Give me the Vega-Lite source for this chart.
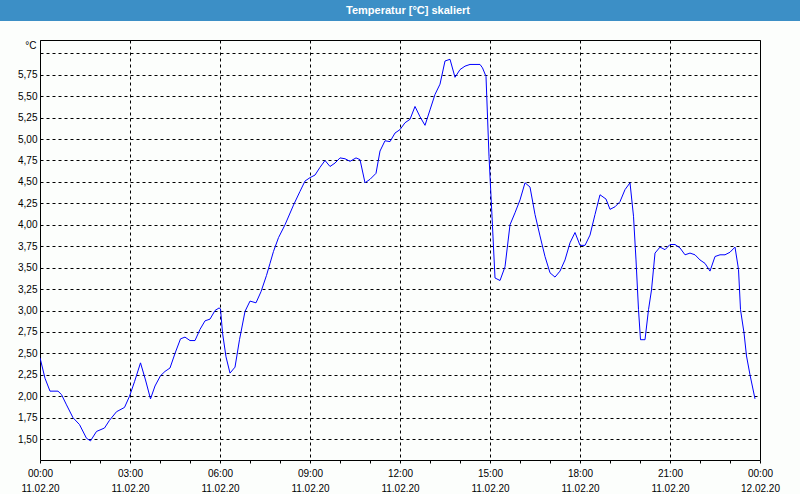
{
  "$schema": "https://vega.github.io/schema/vega-lite/v6.json",
  "padding": 0,
  "background": "#fcfefc",
  "spacing": 19,
  "bounds": "flush",
  "center": true,
  "config": {
    "view": {"stroke": "#000000", "strokeWidth": 1},
    "axis": {"labelFont": "Liberation Sans", "labelFontSize": 10, "labelColor": "#000000", "titleFont": "Liberation Sans", "titleFontSize": 10, "titleColor": "#000000", "titleFontWeight": "normal"}
  },
  "vconcat": [
    {
      "width": 800,
      "height": 21,
      "view": {"fill": "#3c8fc6", "stroke": null},
      "data": {"values": [{"label": "Temperatur [°C] skaliert"}]},
      "mark": {"type": "text", "color": "#ffffff", "font": "Liberation Sans", "fontWeight": "bold", "fontSize": 11, "dx": 8, "baseline": "middle", "align": "center"},
      "encoding": {"text": {"field": "label", "type": "nominal"}}
    },
    {
      "width": 720,
      "height": 420,
      "view": {"fill": "#fcfefc", "stroke": "#000000"},
      "data": {"values": [
        {"t": "2020-02-11T00:00Z", "v": 2.45},
        {"t": "2020-02-11T00:10Z", "v": 2.21},
        {"t": "2020-02-11T00:20Z", "v": 2.06},
        {"t": "2020-02-11T00:36Z", "v": 2.06},
        {"t": "2020-02-11T00:43Z", "v": 2.02},
        {"t": "2020-02-11T00:53Z", "v": 1.90},
        {"t": "2020-02-11T01:06Z", "v": 1.75},
        {"t": "2020-02-11T01:19Z", "v": 1.67},
        {"t": "2020-02-11T01:33Z", "v": 1.51},
        {"t": "2020-02-11T01:41Z", "v": 1.48},
        {"t": "2020-02-11T01:53Z", "v": 1.59},
        {"t": "2020-02-11T02:09Z", "v": 1.63},
        {"t": "2020-02-11T02:19Z", "v": 1.72},
        {"t": "2020-02-11T02:33Z", "v": 1.82},
        {"t": "2020-02-11T02:49Z", "v": 1.87},
        {"t": "2020-02-11T02:59Z", "v": 2.00},
        {"t": "2020-02-11T03:09Z", "v": 2.17},
        {"t": "2020-02-11T03:21Z", "v": 2.39},
        {"t": "2020-02-11T03:31Z", "v": 2.19},
        {"t": "2020-02-11T03:41Z", "v": 1.97},
        {"t": "2020-02-11T03:50Z", "v": 2.12},
        {"t": "2020-02-11T04:01Z", "v": 2.24},
        {"t": "2020-02-11T04:10Z", "v": 2.29},
        {"t": "2020-02-11T04:20Z", "v": 2.33},
        {"t": "2020-02-11T04:30Z", "v": 2.50},
        {"t": "2020-02-11T04:41Z", "v": 2.67},
        {"t": "2020-02-11T04:50Z", "v": 2.69},
        {"t": "2020-02-11T05:00Z", "v": 2.65},
        {"t": "2020-02-11T05:10Z", "v": 2.65},
        {"t": "2020-02-11T05:20Z", "v": 2.78},
        {"t": "2020-02-11T05:30Z", "v": 2.88},
        {"t": "2020-02-11T05:40Z", "v": 2.90},
        {"t": "2020-02-11T05:50Z", "v": 3.00},
        {"t": "2020-02-11T05:58Z", "v": 3.03},
        {"t": "2020-02-11T06:01Z", "v": 3.02},
        {"t": "2020-02-11T06:05Z", "v": 2.74},
        {"t": "2020-02-11T06:12Z", "v": 2.46},
        {"t": "2020-02-11T06:20Z", "v": 2.27},
        {"t": "2020-02-11T06:30Z", "v": 2.34},
        {"t": "2020-02-11T06:39Z", "v": 2.66},
        {"t": "2020-02-11T06:50Z", "v": 2.99},
        {"t": "2020-02-11T07:00Z", "v": 3.11},
        {"t": "2020-02-11T07:12Z", "v": 3.09},
        {"t": "2020-02-11T07:22Z", "v": 3.22},
        {"t": "2020-02-11T07:33Z", "v": 3.41},
        {"t": "2020-02-11T07:40Z", "v": 3.55},
        {"t": "2020-02-11T07:47Z", "v": 3.69},
        {"t": "2020-02-11T07:57Z", "v": 3.85},
        {"t": "2020-02-11T08:10Z", "v": 4.00},
        {"t": "2020-02-11T08:27Z", "v": 4.23},
        {"t": "2020-02-11T08:40Z", "v": 4.39},
        {"t": "2020-02-11T08:50Z", "v": 4.51},
        {"t": "2020-02-11T09:00Z", "v": 4.55},
        {"t": "2020-02-11T09:10Z", "v": 4.58},
        {"t": "2020-02-11T09:20Z", "v": 4.67},
        {"t": "2020-02-11T09:30Z", "v": 4.75},
        {"t": "2020-02-11T09:40Z", "v": 4.68},
        {"t": "2020-02-11T09:50Z", "v": 4.72},
        {"t": "2020-02-11T10:00Z", "v": 4.78},
        {"t": "2020-02-11T10:10Z", "v": 4.77},
        {"t": "2020-02-11T10:20Z", "v": 4.74},
        {"t": "2020-02-11T10:32Z", "v": 4.78},
        {"t": "2020-02-11T10:40Z", "v": 4.76},
        {"t": "2020-02-11T10:50Z", "v": 4.49},
        {"t": "2020-02-11T11:00Z", "v": 4.53},
        {"t": "2020-02-11T11:12Z", "v": 4.60},
        {"t": "2020-02-11T11:20Z", "v": 4.86},
        {"t": "2020-02-11T11:30Z", "v": 4.98},
        {"t": "2020-02-11T11:40Z", "v": 4.97},
        {"t": "2020-02-11T11:50Z", "v": 5.07},
        {"t": "2020-02-11T12:00Z", "v": 5.11},
        {"t": "2020-02-11T12:10Z", "v": 5.19},
        {"t": "2020-02-11T12:20Z", "v": 5.23},
        {"t": "2020-02-11T12:30Z", "v": 5.38},
        {"t": "2020-02-11T12:40Z", "v": 5.26},
        {"t": "2020-02-11T12:50Z", "v": 5.16},
        {"t": "2020-02-11T13:00Z", "v": 5.34},
        {"t": "2020-02-11T13:10Z", "v": 5.52},
        {"t": "2020-02-11T13:20Z", "v": 5.64},
        {"t": "2020-02-11T13:30Z", "v": 5.91},
        {"t": "2020-02-11T13:40Z", "v": 5.93},
        {"t": "2020-02-11T13:50Z", "v": 5.72},
        {"t": "2020-02-11T14:00Z", "v": 5.81},
        {"t": "2020-02-11T14:10Z", "v": 5.85},
        {"t": "2020-02-11T14:20Z", "v": 5.87},
        {"t": "2020-02-11T14:40Z", "v": 5.87},
        {"t": "2020-02-11T14:45Z", "v": 5.83},
        {"t": "2020-02-11T14:52Z", "v": 5.73},
        {"t": "2020-02-11T14:58Z", "v": 4.80},
        {"t": "2020-02-11T15:04Z", "v": 4.10},
        {"t": "2020-02-11T15:10Z", "v": 3.38},
        {"t": "2020-02-11T15:20Z", "v": 3.35},
        {"t": "2020-02-11T15:30Z", "v": 3.51},
        {"t": "2020-02-11T15:40Z", "v": 4.00},
        {"t": "2020-02-11T15:50Z", "v": 4.14},
        {"t": "2020-02-11T16:00Z", "v": 4.29},
        {"t": "2020-02-11T16:10Z", "v": 4.49},
        {"t": "2020-02-11T16:20Z", "v": 4.44},
        {"t": "2020-02-11T16:30Z", "v": 4.12},
        {"t": "2020-02-11T16:40Z", "v": 3.87},
        {"t": "2020-02-11T16:50Z", "v": 3.63},
        {"t": "2020-02-11T17:00Z", "v": 3.44},
        {"t": "2020-02-11T17:10Z", "v": 3.39},
        {"t": "2020-02-11T17:20Z", "v": 3.46},
        {"t": "2020-02-11T17:30Z", "v": 3.59},
        {"t": "2020-02-11T17:40Z", "v": 3.79},
        {"t": "2020-02-11T17:50Z", "v": 3.91},
        {"t": "2020-02-11T18:00Z", "v": 3.76},
        {"t": "2020-02-11T18:10Z", "v": 3.76},
        {"t": "2020-02-11T18:20Z", "v": 3.88},
        {"t": "2020-02-11T18:30Z", "v": 4.12},
        {"t": "2020-02-11T18:40Z", "v": 4.35},
        {"t": "2020-02-11T18:52Z", "v": 4.30},
        {"t": "2020-02-11T19:00Z", "v": 4.18},
        {"t": "2020-02-11T19:10Z", "v": 4.21},
        {"t": "2020-02-11T19:20Z", "v": 4.27},
        {"t": "2020-02-11T19:30Z", "v": 4.41},
        {"t": "2020-02-11T19:40Z", "v": 4.49},
        {"t": "2020-02-11T19:47Z", "v": 4.10},
        {"t": "2020-02-11T19:52Z", "v": 3.59},
        {"t": "2020-02-11T19:57Z", "v": 3.01},
        {"t": "2020-02-11T20:01Z", "v": 2.66},
        {"t": "2020-02-11T20:10Z", "v": 2.66},
        {"t": "2020-02-11T20:17Z", "v": 3.01},
        {"t": "2020-02-11T20:23Z", "v": 3.24},
        {"t": "2020-02-11T20:30Z", "v": 3.67},
        {"t": "2020-02-11T20:40Z", "v": 3.74},
        {"t": "2020-02-11T20:50Z", "v": 3.71},
        {"t": "2020-02-11T21:00Z", "v": 3.77},
        {"t": "2020-02-11T21:10Z", "v": 3.77},
        {"t": "2020-02-11T21:20Z", "v": 3.73},
        {"t": "2020-02-11T21:30Z", "v": 3.65},
        {"t": "2020-02-11T21:40Z", "v": 3.67},
        {"t": "2020-02-11T21:50Z", "v": 3.65},
        {"t": "2020-02-11T22:00Z", "v": 3.59},
        {"t": "2020-02-11T22:10Z", "v": 3.55},
        {"t": "2020-02-11T22:20Z", "v": 3.46},
        {"t": "2020-02-11T22:30Z", "v": 3.63},
        {"t": "2020-02-11T22:40Z", "v": 3.65},
        {"t": "2020-02-11T22:50Z", "v": 3.65},
        {"t": "2020-02-11T23:00Z", "v": 3.68},
        {"t": "2020-02-11T23:10Z", "v": 3.74},
        {"t": "2020-02-11T23:17Z", "v": 3.48},
        {"t": "2020-02-11T23:21Z", "v": 3.01},
        {"t": "2020-02-11T23:28Z", "v": 2.74},
        {"t": "2020-02-11T23:33Z", "v": 2.47},
        {"t": "2020-02-11T23:40Z", "v": 2.25},
        {"t": "2020-02-11T23:50Z", "v": 1.97}
      ]},
      "mark": {"type": "line", "color": "#0000ff", "strokeWidth": 1, "clip": true},
      "encoding": {
        "x": {
          "field": "t", "type": "temporal",
          "scale": {"type": "utc", "domain": [1581379200000, 1581465600000], "nice": false},
          "axis": {
            "title": null,
            "values": [1581379200000, 1581382800000, 1581386400000, 1581390000000, 1581393600000, 1581397200000, 1581400800000, 1581404400000, 1581408000000, 1581411600000, 1581415200000, 1581418800000, 1581422400000, 1581426000000, 1581429600000, 1581433200000, 1581436800000, 1581440400000, 1581444000000, 1581447600000, 1581451200000, 1581454800000, 1581458400000, 1581462000000, 1581465600000],
            "labelExpr": "utchours(datum.value) % 3 === 0 ? [utcFormat(datum.value, '%H:%M'), utcFormat(datum.value, '%d.%m.%y')] : ''",
            "labelOverlap": false,
            "labelFlush": false,
            "labelBound": false,
            "labelAlign": "center",
            "labelBaseline": "top",
            "labelLineHeight": 15,
            "labelPadding": 5,
            "tickSize": 3,
            "tickColor": "#000000",
            "domain": false,
            "grid": true,
            "gridColor": "#000000",
            "gridDash": [3, 3],
            "gridWidth": 1,
            "gridOpacity": {"condition": {"test": "utchours(datum.value) % 3 === 0", "value": 1}, "value": 0}
          }
        },
        "y": {
          "field": "v", "type": "quantitative",
          "scale": {"domain": [1.257, 6.155], "nice": false, "zero": false},
          "axis": {
            "title": "°C",
            "titleAngle": 0,
            "titleAlign": "right",
            "titleBaseline": "middle",
            "titleX": -4,
            "titleY": 5,
            "values": [1.5, 1.75, 2.0, 2.25, 2.5, 2.75, 3.0, 3.25, 3.5, 3.75, 4.0, 4.25, 4.5, 4.75, 5.0, 5.25, 5.5, 5.75, 6.0],
            "labelExpr": "datum.value > 5.9 ? '' : replace(format(datum.value, '.2f'), '.', ',')",
            "labelOverlap": false,
            "labelPadding": 3,
            "tickSize": 0,
            "domain": false,
            "grid": true,
            "gridColor": "#000000",
            "gridDash": [3, 3],
            "gridWidth": 1,
            "gridOpacity": 1
          }
        }
      }
    }
  ]
}
